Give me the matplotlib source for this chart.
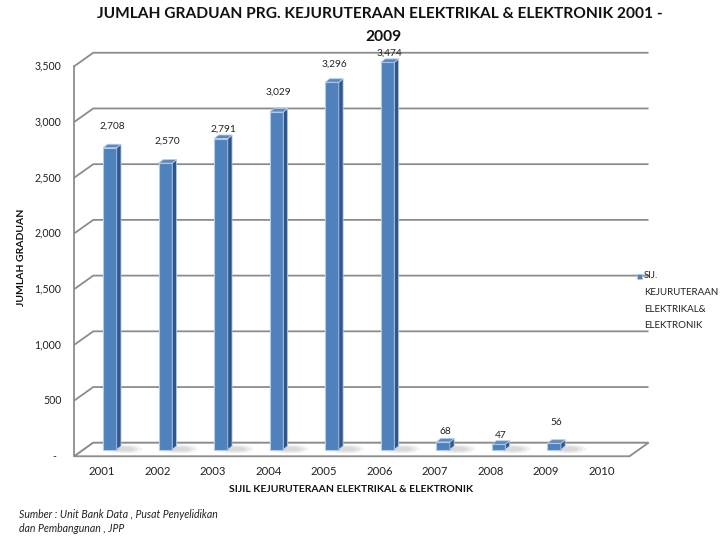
import matplotlib
matplotlib.use('Agg')
import matplotlib.pyplot as plt
from matplotlib.patches import Polygon, Rectangle, Ellipse

# data
years = ['2001', '2002', '2003', '2004', '2005', '2006', '2007', '2008', '2009', '2010']
graduan = [2708, 2570, 2791, 3029, 3296, 3474, 68, 47, 56]
y_ticks = [0, 500, 1000, 1500, 2000, 2500, 3000, 3500]
y_tick_labels = ['-', '500', '1,000', '1,500', '2,000', '2,500', '3,000', '3,500']
# how far (px) each value label sits above its bar (excel 3d placement is uneven)
label_lift_px = [22, 22, 9, 20, 18, 9, 10, 9, 21]

plt.rcParams['font.family'] = ['Lato', 'DejaVu Sans']

W, H = 720, 540
fig = plt.figure(figsize=(W / 100, H / 100), dpi=100)
ax_l, ax_b, ax_w, ax_h = 83.75, 449.5, 555.25, 390.0
ax = fig.add_axes([ax_l / W, (H - ax_b) / H, ax_w / W, ax_h / H])
ax.set_xlim(-0.5, 9.5)
ax.set_ylim(0, 3500)
ax.axis('off')

px_x = ax_w / 10.0          # px per category
px_y = ax_h / 3500.0        # px per graduate
dx = 9.5 / px_x             # half depth of the floor, in data units
dy = 6.75 / px_y
grid_c = '#8c8c8c'

# back wall gridlines with the slanted bit on the left wall
for v in y_ticks:
    ax.plot([-0.5 - dx, -0.5 + dx, 9.5 + dx], [v - dy, v + dy, v + dy],
            color=grid_c, lw=1.3, clip_on=False, zorder=1, solid_capstyle='butt')
ax.plot([-0.5 - dx, -0.5 - dx], [-dy, 3500 - dy], color=grid_c, lw=1.3, clip_on=False, zorder=1)

# floor
floor = Polygon([(-0.5 - dx, -dy), (9.5 - dx, -dy), (9.5 + dx, dy), (-0.5 + dx, dy)],
                closed=True, fc='white', ec=grid_c, lw=1.3, clip_on=False, zorder=2)
ax.add_patch(floor)

for v, lab in zip(y_ticks, y_tick_labels):
    off = -18 if lab == '-' else -13
    ax.annotate(lab, (-0.5 - dx, v - dy), xytext=(off * 0.72, 0), textcoords='offset points',
                ha='right', va='center', fontsize=7.6, color='#222222', annotation_clip=False)

# 3d bars
x_front_l, x_front_r, x_back = -0.148, 0.094, 0.171
depth_y = 3.5 / px_y
for i, v in enumerate(graduan):
    # soft shadow on the floor, a few stacked layers to fake a blur
    for w, h, a in [(0.62, 80, 0.10), (0.48, 60, 0.12), (0.34, 40, 0.14)]:
        sh = Ellipse((i + 0.24, 4), w, h, fc='#8a8a8a', ec='none', alpha=a, zorder=3, clip_on=False)
        ax.add_patch(sh)
    front = Rectangle((i + x_front_l, 0), x_front_r - x_front_l, v,
                      fc='#4f81bd', ec='#b4cbe8', lw=0.8, zorder=4, clip_on=False)
    side = Polygon([(i + x_front_r, 0), (i + x_back, depth_y), (i + x_back, v + depth_y), (i + x_front_r, v)],
                   closed=True, fc='#2f5688', ec='#b4cbe8', lw=0.6, zorder=4, clip_on=False)
    top = Polygon([(i + x_front_l, v), (i + x_front_r, v), (i + x_back, v + depth_y),
                   (i + x_front_l + (x_back - x_front_r), v + depth_y)],
                  closed=True, fc='#5d88bd', ec='#b4cbe8', lw=0.6, zorder=4, clip_on=False)
    ax.add_patch(front)
    ax.add_patch(side)
    ax.add_patch(top)
    ax.annotate(f'{v:,}', (i + 0.01, v), xytext=(0, label_lift_px[i] * 0.72), textcoords='offset points',
                ha='center', va='center', fontsize=7.3, color='#222222', annotation_clip=False)

for i, yr in enumerate(years):
    ax.annotate(yr, (i - dx, -dy), xytext=(0, -15 * 0.72), textcoords='offset points',
                ha='center', va='center', fontsize=8.2, color='#222222', annotation_clip=False)

# titles / axis titles
fig.text(380 / W, (H - 14) / H, 'JUMLAH GRADUAN PRG. KEJURUTERAAN ELEKTRIKAL & ELEKTRONIK 2001 -',
         ha='center', va='center', fontsize=11.2, fontweight='bold', color='#111111')
fig.text(383 / W, (H - 37) / H, '2009', ha='center', va='center', fontsize=11.2,
         fontweight='bold', color='#111111')
fig.text(22 / W, (H - 257) / H, 'JUMLAH GRADUAN', rotation=90, ha='center', va='center',
         fontsize=7.5, fontweight='bold', color='#111111')
fig.text(351 / W, (H - 489) / H, 'SIJIL KEJURUTERAAN ELEKTRIKAL & ELEKTRONIK', ha='center',
         va='center', fontsize=7.5, fontweight='bold', color='#111111')

# legend
fig.patches.append(Rectangle((637 / W, (H - 279) / H), 5 / W, 5 / H, transform=fig.transFigure,
                             fc='#4f81bd', ec='#b4cbe8', lw=0.5))
legend_lines = ['SIJ.', 'KEJURUTERAAN', 'ELEKTRIKAL&', 'ELEKTRONIK']
for k, t in enumerate(legend_lines):
    fig.text(644 / W, (H - 276 - k * 16.5) / H, t, ha='left', va='center', fontsize=7, color='#222222')

# source note
fig.text(19 / W, (H - 515) / H, 'Sumber : Unit Bank Data , Pusat Penyelidikan', ha='left', va='center',
         fontsize=7.6, style='italic', color='#222222')
fig.text(19 / W, (H - 529) / H, 'dan Pembangunan , JPP', ha='left', va='center',
         fontsize=7.6, style='italic', color='#222222')

fig.savefig('out.png', dpi=100)
